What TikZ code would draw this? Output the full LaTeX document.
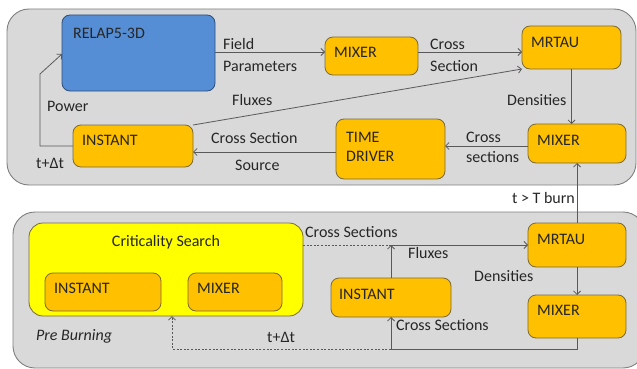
\documentclass[tikz,border=0pt]{standalone}
\usepackage{fontspec}
\setmainfont{Carlito}
\usetikzlibrary{arrows.meta}
\definecolor{panelfill}{HTML}{D9D9D9}
\definecolor{paneledge}{HTML}{7F7F7F}
\definecolor{blueboxfill}{HTML}{558ED5}
\definecolor{blueboxedge}{HTML}{2F4F7A}
\definecolor{orangefill}{HTML}{FFC000}
\definecolor{orangeedge}{HTML}{7A6A3A}
\definecolor{yellowfill}{HTML}{FFFF00}
\definecolor{linegray}{HTML}{595959}
\definecolor{textgray}{HTML}{262626}
\tikzset{
  panel/.style={fill=panelfill, draw=paneledge, line width=0.9pt, rounded corners=22pt},
  blk/.style={draw, line width=0.8pt, rounded corners=8pt, inner sep=0pt, outer sep=0pt},
  bluebox/.style={blk, fill=blueboxfill, draw=blueboxedge},
  orangebox/.style={blk, fill=orangefill, draw=orangeedge},
  yellowbox/.style={blk, fill=yellowfill, draw=orangeedge, rounded corners=14pt},
  txt/.style={anchor=west, inner sep=0pt, text=textgray},
  lbl/.style={anchor=west, inner sep=0pt, text=textgray},
  arr/.style={draw=linegray, line width=0.8pt, -{Straight Barb[length=3.5pt,width=7pt]}},
  ln/.style={draw=linegray, line width=0.8pt},
  dashln/.style={draw=linegray, line width=0.8pt, dash pattern=on 2pt off 1.6pt},
}
\begin{document}
\begin{tikzpicture}[x=1pt, y=-1pt, font=\fontsize{16}{19}\selectfont]
\useasboundingbox (0,0) rectangle (637,369);

% two process panels
\path[panel] (7,9) rectangle (636,185);
\path[panel] (13,212) rectangle (645,368);

% ---- burn-up loop ----
\node[bluebox, minimum width=153pt, minimum height=76pt] (relap) at (138.5,53) {};
\node[orangebox, minimum width=120pt, minimum height=42pt] (instA) at (133,146) {};
\node[orangebox, minimum width=93pt, minimum height=38pt] (mixA) at (371.5,56) {};
\node[orangebox, minimum width=99pt, minimum height=43pt] (mrtA) at (571.5,47.5) {};
\node[orangebox, minimum width=98pt, minimum height=39pt] (mixB) at (577,143.5) {};
\node[orangebox, minimum width=109pt, minimum height=60pt] (time) at (390.5,149) {};

\node[txt] (relapT) at (73,33) {RELAP5-3D};
\node[txt] (instAT) at (82,140) {INSTANT};
\node[txt] (mixAT) at (334,52) {MIXER};
\node[txt] (mrtAT) at (531,42) {MRTAU};
\node[txt] (mixBT) at (537,140) {MIXER};
\node[txt] (timeT1) at (346,137) {TIME};
\node[txt] (timeT2) at (346,156) {DRIVER};

% ---- pre-burning loop ----
\node[yellowbox, minimum width=274pt, minimum height=93pt] (crit) at (166,269.5) {};
\node[orangebox, minimum width=116pt, minimum height=38pt] (instC) at (103,292) {};
\node[orangebox, minimum width=94pt, minimum height=38pt] (mixC) at (235,292) {};
\node[orangebox, minimum width=98pt, minimum height=44pt] (mrtB) at (577,245) {};
\node[orangebox, minimum width=98pt, minimum height=43pt] (mixD) at (577,316.5) {};
\node[orangebox, minimum width=120pt, minimum height=39pt] (instB) at (391,297.5) {};

\node[inner sep=0pt, text=textgray] (critT) at (166,242) {Criticality Search};
\node[txt] (instCT) at (54,288) {INSTANT};
\node[txt] (mixCT) at (197,288) {MIXER};
\node[txt] (mrtBT) at (537,239) {MRTAU};
\node[txt] (mixDT) at (537,310) {MIXER};
\node[txt] (instBT) at (339,294) {INSTANT};
\node[txt, font=\fontsize{16}{19}\selectfont\itshape] (preT) at (36,336) {Pre Burning};

% ---- helper coordinates ----
\coordinate (yA) at (0,52);
\coordinate (yB) at (0,146);
\coordinate (yC) at (0,152);
\coordinate (pwr) at (40,74);
\coordinate (jn) at (391,245);
\coordinate (lp) at (391,349);
\coordinate (cb) at (172,349);

% ---- connectors, burn-up loop ----
\draw[arr] (relap.east |- yA) -- (mixA.west |- yA);
\draw[arr] (mixA.east |- yA) -- (mrtA.west |- yA);
\draw[arr] (instA.north east) -- (mrtA.south west);
\draw[arr] (mrtA.south) -- (mrtA.south |- mixB.north);
\draw[arr] (mixB.west |- yB) -- (time.east |- yB);
\draw[arr] (time.west |- yC) -- (instA.east |- yC);
\draw[arr] (instA.west) -| (pwr) -- ([yshift=-1pt]relap.west);
\draw[arr] (mrtB.north) -- (mixB.south);

\node[lbl] (l1) at (223,44) {Field};
\node[lbl] (l2) at (223,66) {Parameters};
\node[lbl] (l3) at (430,44) {Cross};
\node[lbl] (l4) at (430,66) {Section};
\node[lbl] (l5) at (232,100) {Fluxes};
\node[lbl] (l6) at (47,106) {Power};
\node[lbl] (l7) at (36,163) {t+Δt};
\node[lbl] (l8) at (211,138) {Cross Section};
\node[lbl] (l9) at (235,165) {Source};
\node[lbl] (l10) at (507,100) {Densities};
\node[lbl] (l11) at (466,137) {Cross};
\node[lbl] (l12) at (466,157) {sections};
\node[lbl, anchor=east] (l13) at (575,198) {t > T burn};

% ---- connectors, pre-burning loop ----
\draw[dashln] (crit.east |- jn) -- (jn);
\draw[arr] (instB.north) -- (jn);
\draw[arr] (jn) -- (mrtB.west);
\draw[arr] (mrtB.south) -- (mixD.north);
\draw[ln] (mixD.south) |- (lp);
\draw[arr] (lp) -- (instB.south);
\draw[dashln, -{Straight Barb[length=3.5pt,width=7pt]}] (lp) -- (cb) -- (cb |- crit.south);

\node[lbl] (m1) at (305,232) {Cross Sections};
\node[lbl] (m2) at (408,253) {Fluxes};
\node[lbl] (m3) at (474,276) {Densities};
\node[lbl] (m4) at (396,325) {Cross Sections};
\node[lbl] (m5) at (267,337) {t+Δt};
\end{tikzpicture}
\end{document}
